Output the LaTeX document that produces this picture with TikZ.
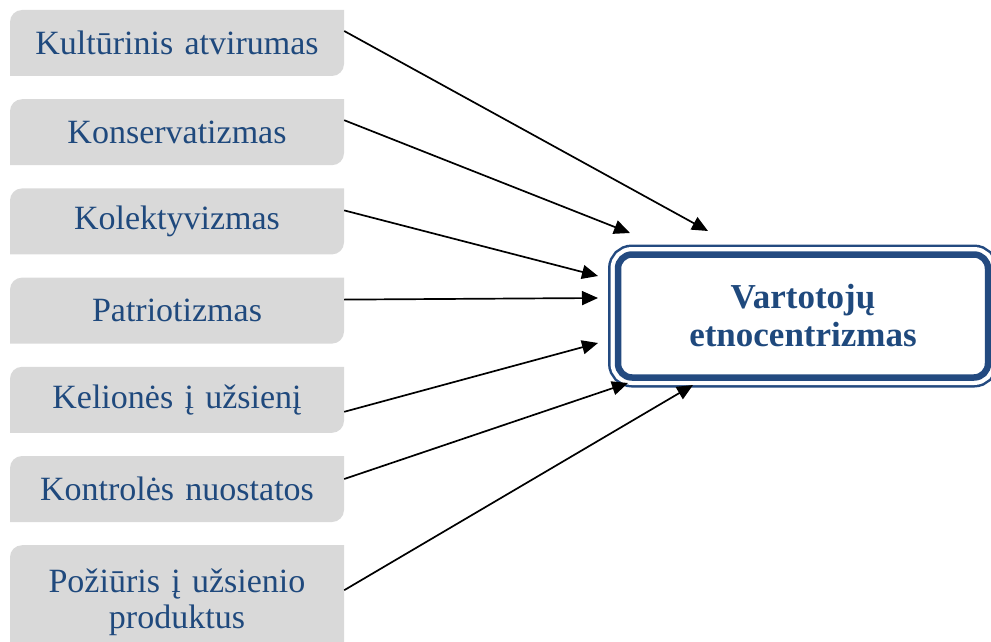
\documentclass[tikz,border=0pt]{standalone}
\usepackage{fontspec}
\setmainfont{Liberation Serif}
\usetikzlibrary{arrows.meta, positioning}
\definecolor{textblue}{RGB}{31,73,125}
\definecolor{framenavy}{RGB}{35,74,128}
\definecolor{boxgray}{RGB}{217,217,217}
\tikzset{
  factor/.style={rectangle, minimum width=334, minimum height=66,
                 text width=320, align=center, text=textblue,
                 font=\fontsize{34}{36}\selectfont,
                 path picture={
                   \fill[boxgray] (path picture bounding box.south west)
                     -- ([yshift=-12]path picture bounding box.north west)
                     arc[start angle=180, end angle=90, radius=12]
                     -- (path picture bounding box.north east)
                     -- ([yshift=12]path picture bounding box.south east)
                     arc[start angle=0, end angle=-90, radius=12] -- cycle;}},
  outcome/.style={rectangle, rounded corners=14, minimum width=370,
                  minimum height=123, text width=340, align=center,
                  fill=white, draw=framenavy, line width=6.5,
                  preaction={draw=framenavy, line width=20},
                  preaction={draw=white, line width=15},
                  text=textblue, font=\fontsize{35}{38}\selectfont\bfseries},
  arr/.style={-{Triangle[length=16, width=14]}, line width=1.7, color=black},
}
\begin{document}
\begin{tikzpicture}[x=1pt, y=1pt, node distance=22.8]
  \useasboundingbox (0,0) rectangle (991,-642);
  \node[factor]                  (kult)   at (177,-43) {Kultūrinis atvirumas};
  \node[factor, below=of kult]   (kons)   {Konservatizmas};
  \node[factor, below=of kons]   (kolekt) {Kolektyvizmas};
  \node[factor, below=of kolekt] (patr)   {Patriotizmas};
  \node[factor, below=of patr]   (kel)    {Kelionės į užsienį};
  \node[factor, below=of kel]    (kontr)  {Kontrolės nuostatos};
  \node[factor, below=of kontr, minimum height=114] (pozi) {Požiūris į užsienio\\produktus};
  \node[outcome] (etno) at (803,-316) {Vartotojų\\etnocentrizmas};

  \coordinate (kult-tip)   at (708,-231);
  \coordinate (kons-tip)   at (630,-233);
  \coordinate (kolekt-tip) at (598,-276);
  \coordinate (patr-tip)   at (598,-298);
  \coordinate (kel-tip)    at (598,-343);
  \coordinate (kontr-tip)  at (628,-383);
  \coordinate (pozi-tip)   at (693,-385);

  \draw[arr] ([yshift=12]kult.east)   -- (kult-tip);
  \draw[arr] ([yshift=12]kons.east)   -- (kons-tip);
  \draw[arr] ([yshift=11]kolekt.east) -- (kolekt-tip);
  \draw[arr] ([yshift=11]patr.east)   -- (patr-tip);
  \draw[arr] ([yshift=-12]kel.east)   -- (kel-tip);
  \draw[arr] ([yshift=10]kontr.east)  -- (kontr-tip);
  \draw[arr] ([yshift=12]pozi.east)   -- (pozi-tip);
\end{tikzpicture}
\end{document}
